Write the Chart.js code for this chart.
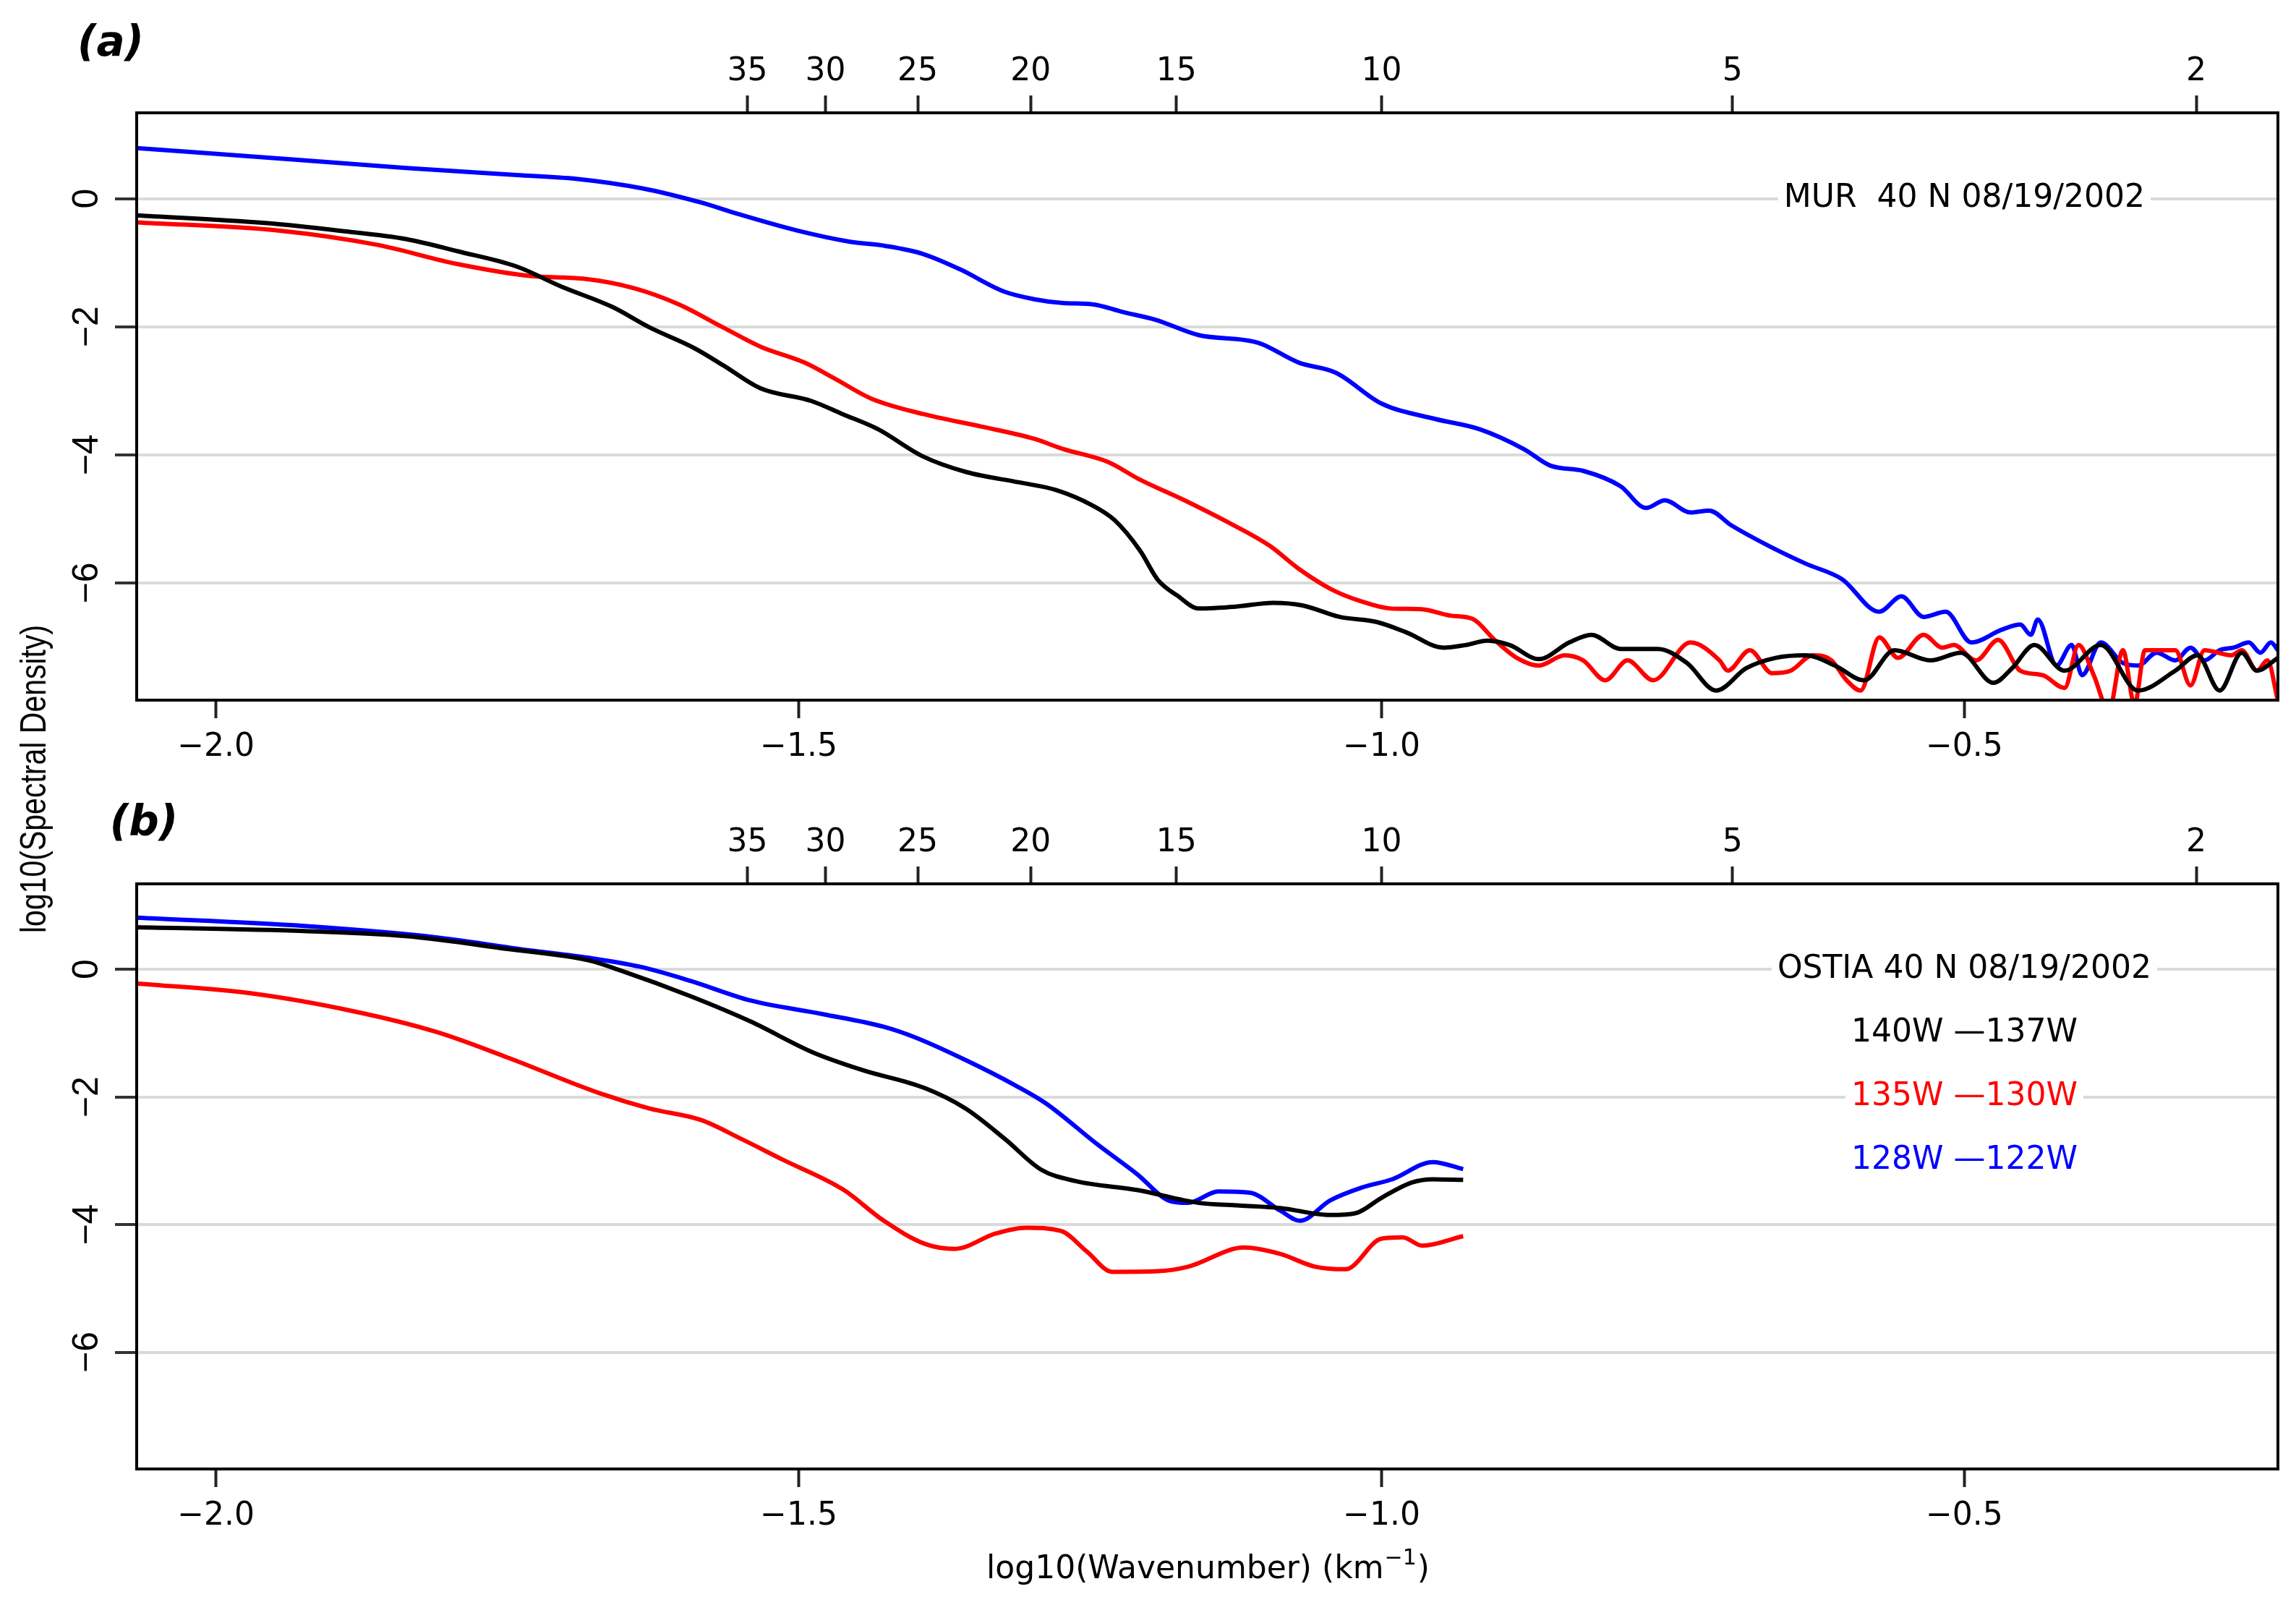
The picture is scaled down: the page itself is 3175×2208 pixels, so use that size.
<!DOCTYPE html>
<html>
<head>
<meta charset="utf-8">
<script src="https://cdn.jsdelivr.net/npm/chart.js@4.4.1/dist/chart.umd.min.js"></script>
<style>
  body { margin: 0; background: #fff; }
  #wrap { position: relative; width: 3175px; height: 2208px; overflow: hidden; }
  canvas { position: absolute; left: 0; }
  #ytitle {
    position: absolute; left: 46px; top: 1077px;
    transform: translate(-50%, -50%) rotate(-90deg) scaleX(0.82);
    font: 50px "Liberation Sans", sans-serif; white-space: nowrap; color: #000;
  }
</style>
</head>
<body>
<div id="wrap">
  <canvas id="chartA" width="3175" height="1100" style="top:0px;width:3175px;height:1100px"></canvas>
  <canvas id="chartB" width="3175" height="1108" style="top:1100px;width:3175px;height:1108px"></canvas>
  <div id="ytitle">log10(Spectral Density)</div>
</div>
<script>
// axes
var xTicks = [-2.0, -1.5, -1.0, -0.5];
var yTicks = [-6, -4, -2, 0];
var topKm = [35, 30, 25, 20, 15, 10, 5, 2];
var xLimits = [-2.068, -0.231];
var yLimits = [-7.83, 1.34];

var seriesColors = ["#000000", "#ff0000", "#0000ff"];
var seriesNames = ["140W \u2014137W", "135W \u2014130W", "128W \u2014122W"];

// (a) MUR 40 N 08/19/2002   [log10(wavenumber), log10(spectral density)]
var murBlack = [[-2.068,-0.26],[-1.958,-0.38],[-1.894,-0.50],[-1.837,-0.63],[-1.793,-0.82],[-1.742,-1.06],
  [-1.704,-1.37],[-1.660,-1.69],[-1.628,-2.01],[-1.590,-2.33],[-1.565,-2.60],[-1.533,-2.96],[-1.489,-3.16],
  [-1.463,-3.36],[-1.432,-3.60],[-1.394,-4.02],[-1.356,-4.27],[-1.311,-4.43],[-1.279,-4.55],[-1.248,-4.79],
  [-1.229,-5.02],[-1.207,-5.50],[-1.192,-5.95],[-1.175,-6.20],[-1.157,-6.40],[-1.125,-6.37],[-1.093,-6.31],
  [-1.068,-6.35],[-1.036,-6.53],[-1.004,-6.61],[-0.979,-6.77],[-0.947,-7.01],[-0.928,-6.97],[-0.909,-6.90],
  [-0.890,-6.97],[-0.865,-7.19],[-0.839,-6.93],[-0.820,-6.81],[-0.795,-7.03],[-0.763,-7.03],[-0.738,-7.25],
  [-0.713,-7.68],[-0.687,-7.33],[-0.662,-7.17],[-0.636,-7.13],[-0.611,-7.29],[-0.586,-7.52],[-0.560,-7.05],
  [-0.529,-7.21],[-0.503,-7.09],[-0.475,-7.56],[-0.459,-7.33],[-0.440,-6.97],[-0.414,-7.37],[-0.383,-6.97],
  [-0.351,-7.68],[-0.319,-7.37],[-0.300,-7.13],[-0.281,-7.68],[-0.262,-7.09],[-0.249,-7.37],[-0.231,-7.17]];
var murRed = [[-2.068,-0.37],[-1.945,-0.50],[-1.862,-0.72],[-1.793,-1.02],[-1.729,-1.21],[-1.685,-1.25],
  [-1.641,-1.40],[-1.603,-1.65],[-1.565,-2.01],[-1.533,-2.31],[-1.495,-2.56],[-1.470,-2.80],[-1.438,-3.12],
  [-1.394,-3.36],[-1.343,-3.56],[-1.298,-3.75],[-1.273,-3.91],[-1.235,-4.11],[-1.207,-4.39],[-1.169,-4.71],
  [-1.131,-5.06],[-1.096,-5.42],[-1.071,-5.78],[-1.043,-6.10],[-1.017,-6.29],[-0.992,-6.40],[-0.966,-6.41],
  [-0.941,-6.51],[-0.922,-6.56],[-0.903,-6.89],[-0.884,-7.17],[-0.865,-7.29],[-0.843,-7.13],[-0.827,-7.21],
  [-0.808,-7.52],[-0.789,-7.21],[-0.767,-7.52],[-0.735,-6.93],[-0.710,-7.21],[-0.703,-7.37],[-0.684,-7.05],
  [-0.665,-7.41],[-0.649,-7.37],[-0.630,-7.13],[-0.614,-7.21],[-0.601,-7.52],[-0.589,-7.68],[-0.573,-6.85],
  [-0.557,-7.17],[-0.535,-6.81],[-0.519,-7.01],[-0.509,-6.97],[-0.490,-7.21],[-0.471,-6.89],[-0.452,-7.37],
  [-0.433,-7.44],[-0.414,-7.64],[-0.402,-6.97],[-0.389,-7.44],[-0.376,-8.00],[-0.364,-7.05],[-0.354,-7.90],
  [-0.345,-7.05],[-0.319,-7.05],[-0.306,-7.60],[-0.294,-7.05],[-0.271,-7.13],[-0.262,-7.05],[-0.249,-7.37],
  [-0.240,-7.21],[-0.231,-7.84]];
var murBlue = [[-2.068,0.79],[-1.932,0.61],[-1.837,0.48],[-1.742,0.37],[-1.691,0.31],[-1.634,0.16],
  [-1.584,-0.06],[-1.552,-0.24],[-1.501,-0.50],[-1.457,-0.67],[-1.425,-0.74],[-1.394,-0.86],[-1.362,-1.10],
  [-1.324,-1.45],[-1.298,-1.57],[-1.273,-1.63],[-1.248,-1.65],[-1.222,-1.77],[-1.194,-1.89],[-1.157,-2.13],
  [-1.106,-2.25],[-1.071,-2.56],[-1.039,-2.72],[-1.000,-3.20],[-0.954,-3.44],[-0.916,-3.60],[-0.878,-3.91],
  [-0.855,-4.17],[-0.827,-4.25],[-0.795,-4.49],[-0.773,-4.83],[-0.757,-4.71],[-0.735,-4.90],[-0.719,-4.87],
  [-0.700,-5.10],[-0.668,-5.42],[-0.636,-5.70],[-0.605,-5.94],[-0.573,-6.45],[-0.554,-6.21],[-0.535,-6.53],
  [-0.516,-6.45],[-0.494,-6.93],[-0.468,-6.73],[-0.452,-6.65],[-0.443,-6.81],[-0.437,-6.57],[-0.421,-7.29],
  [-0.408,-6.97],[-0.399,-7.44],[-0.383,-6.93],[-0.364,-7.25],[-0.351,-7.29],[-0.335,-7.09],[-0.319,-7.21],
  [-0.306,-7.01],[-0.294,-7.21],[-0.281,-7.05],[-0.269,-7.01],[-0.256,-6.93],[-0.246,-7.09],[-0.237,-6.93],
  [-0.231,-7.05]];

// (b) OSTIA 40 N 08/19/2002
var ostiaBlack = [[-2.068,0.66],[-1.924,0.60],[-1.837,0.52],[-1.750,0.32],[-1.680,0.14],[-1.654,-0.01],
  [-1.593,-0.42],[-1.541,-0.82],[-1.488,-1.30],[-1.445,-1.58],[-1.392,-1.86],[-1.357,-2.18],[-1.323,-2.66],
  [-1.292,-3.14],[-1.262,-3.32],[-1.209,-3.46],[-1.157,-3.66],[-1.122,-3.70],[-1.087,-3.74],[-1.044,-3.85],
  [-1.022,-3.82],[-1.000,-3.58],[-0.974,-3.34],[-0.956,-3.29],[-0.930,-3.30]];
var ostiaRed = [[-2.068,-0.22],[-1.968,-0.38],[-1.881,-0.66],[-1.811,-0.98],[-1.750,-1.38],[-1.671,-1.94],
  [-1.628,-2.18],[-1.584,-2.36],[-1.549,-2.66],[-1.514,-2.98],[-1.462,-3.45],[-1.427,-3.94],[-1.392,-4.30],
  [-1.366,-4.38],[-1.331,-4.14],[-1.305,-4.05],[-1.275,-4.10],[-1.253,-4.42],[-1.231,-4.74],[-1.192,-4.73],
  [-1.166,-4.66],[-1.118,-4.36],[-1.087,-4.46],[-1.057,-4.66],[-1.031,-4.70],[-1.000,-4.22],[-0.982,-4.20],
  [-0.965,-4.33],[-0.930,-4.18]];
var ostiaBlue = [[-2.068,0.81],[-1.924,0.68],[-1.820,0.52],[-1.732,0.30],[-1.680,0.18],[-1.636,0.04],
  [-1.593,-0.18],[-1.541,-0.49],[-1.480,-0.70],[-1.427,-0.90],[-1.401,-1.06],[-1.357,-1.42],[-1.314,-1.82],
  [-1.288,-2.10],[-1.244,-2.74],[-1.209,-3.22],[-1.183,-3.62],[-1.166,-3.66],[-1.140,-3.48],[-1.113,-3.50],
  [-1.087,-3.78],[-1.070,-3.94],[-1.044,-3.62],[-1.017,-3.42],[-0.991,-3.29],[-0.956,-3.02],[-0.930,-3.13]];

function minus(s) { return String(s).replace("-", "\u2212"); }

var tickFont = { family: "DejaVu Sans", size: 44 };

// draws the box, rotated y labels, panel letter and the text notes
var panelDecor = {
  id: "panelDecor",
  afterDraw: function(chart, args, opts) {
    var ctx = chart.ctx, a = chart.chartArea;
    var xs = chart.scales.x, ys = chart.scales.y;
    ctx.save();
    ctx.strokeStyle = "#000";
    ctx.lineWidth = 4;
    ctx.strokeRect(a.left, a.top, a.right - a.left, a.bottom - a.top);

    ctx.fillStyle = "#000";
    ctx.font = "50px 'Liberation Sans'";
    ctx.textAlign = "center";
    ctx.textBaseline = "middle";
    yTicks.forEach(function(v) {
      ctx.save();
      ctx.translate(121, ys.getPixelForValue(v));
      ctx.rotate(-Math.PI / 2);
      ctx.fillText(minus(v), 0, 0);
      ctx.restore();
    });

    ctx.font = "italic bold 58px 'DejaVu Sans'";
    ctx.fillText(opts.letter, opts.letterX, opts.letterY);

    // notes placed in data coordinates, white box behind each
    ctx.font = "44px 'DejaVu Sans'";
    opts.notes.forEach(function(n) {
      var px = xs.getPixelForValue(n.x), py = ys.getPixelForValue(n.y);
      var w = ctx.measureText(n.text).width;
      ctx.fillStyle = "#fff";
      ctx.fillRect(px - w / 2 - 8, py - 26, w + 16, 52);
      ctx.fillStyle = n.color;
      ctx.fillText(n.text, px, py);
    });

    if (opts.xTitle) {
      var cx = (a.left + a.right) / 2, cy = opts.xTitleY;
      var p1 = "log10(Wavenumber) (km", sup = "\u22121", p2 = ")";
      ctx.font = "44px 'DejaVu Sans'";
      var w1 = ctx.measureText(p1).width, w3 = ctx.measureText(p2).width;
      ctx.font = "30px 'DejaVu Sans'";
      var w2 = ctx.measureText(sup).width;
      var x0 = cx - (w1 + w2 + w3) / 2;
      ctx.fillStyle = "#000";
      ctx.textAlign = "left";
      ctx.font = "44px 'DejaVu Sans'";
      ctx.fillText(p1, x0, cy);
      ctx.font = "30px 'DejaVu Sans'";
      ctx.fillText(sup, x0 + w1 + 1, cy - 16);
      ctx.font = "44px 'DejaVu Sans'";
      ctx.fillText(p2, x0 + w1 + w2 + 2, cy);
    }
    ctx.restore();
  }
};

function makePanel(id, curves, g, decor) {
  var datasets = curves.map(function(c, i) {
    return {
      data: c.map(function(p) { return { x: p[0], y: p[1] }; }),
      borderColor: seriesColors[i],
      borderWidth: 6,
      pointRadius: 0,
      cubicInterpolationMode: "monotone",
      fill: false
    };
  });
  return new Chart(document.getElementById(id), {
    type: "line",
    data: { datasets: datasets },
    plugins: [panelDecor],
    options: {
      responsive: false,
      animation: false,
      devicePixelRatio: 1,
      layout: { padding: { left: 0, right: g.padRight, top: 0, bottom: 0 } },
      plugins: { legend: { display: false }, tooltip: { enabled: false }, panelDecor: decor },
      scales: {
        x: {
          type: "linear", position: "bottom", min: xLimits[0], max: xLimits[1],
          afterBuildTicks: function(s) { s.ticks = xTicks.map(function(v) { return { value: v }; }); },
          afterFit: function(s) { s.height = g.bottomH; },
          border: { display: false },
          grid: { drawOnChartArea: false, tickLength: 25, tickWidth: 4, tickColor: "#222" },
          ticks: { font: tickFont, color: "#000", padding: 14, maxRotation: 0, autoSkip: false,
                   callback: function(v) { return minus(v.toFixed(1)); } }
        },
        x2: {
          type: "linear", position: "top", min: xLimits[0], max: xLimits[1],
          afterBuildTicks: function(s) { s.ticks = topKm.map(function(k) { return { value: Math.log10(1 / k) }; }); },
          afterFit: function(s) { s.height = g.topH; },
          border: { display: false },
          grid: { drawOnChartArea: false, tickLength: 24, tickWidth: 4, tickColor: "#222" },
          ticks: { font: tickFont, color: "#000", padding: 6, maxRotation: 0, autoSkip: false,
                   callback: function(v, i) { return String(topKm[i]); } }
        },
        y: {
          type: "linear", position: "left", min: yLimits[0], max: yLimits[1],
          afterBuildTicks: function(s) { s.ticks = yTicks.map(function(v) { return { value: v }; }); },
          afterFit: function(s) { s.width = g.leftW; },
          border: { display: false },
          grid: { color: "#dadada", lineWidth: 4, tickLength: 30, tickWidth: 4, tickColor: "#333" },
          ticks: { display: false }
        }
      }
    }
  });
}

makePanel("chartA", [murBlack, murRed, murBlue],
  { leftW: 189, padRight: 25, topH: 156, bottomH: 132 },
  { letter: "(a)", letterX: 153, letterY: 62,
    notes: [{ text: "MUR  40 N 08/19/2002", x: -0.5, y: 0, color: "#000" }] });

makePanel("chartB", [ostiaBlack, ostiaRed, ostiaBlue],
  { leftW: 189, padRight: 25, topH: 122, bottomH: 177 },
  { letter: "(b)", letterX: 199, letterY: 40,
    notes: [{ text: "OSTIA 40 N 08/19/2002", x: -0.5, y: 0, color: "#000" },
            { text: seriesNames[0], x: -0.5, y: -1, color: seriesColors[0] },
            { text: seriesNames[1], x: -0.5, y: -2, color: seriesColors[1] },
            { text: seriesNames[2], x: -0.5, y: -3, color: seriesColors[2] }],
    xTitle: true, xTitleY: 1071 });
</script>
</body>
</html>
